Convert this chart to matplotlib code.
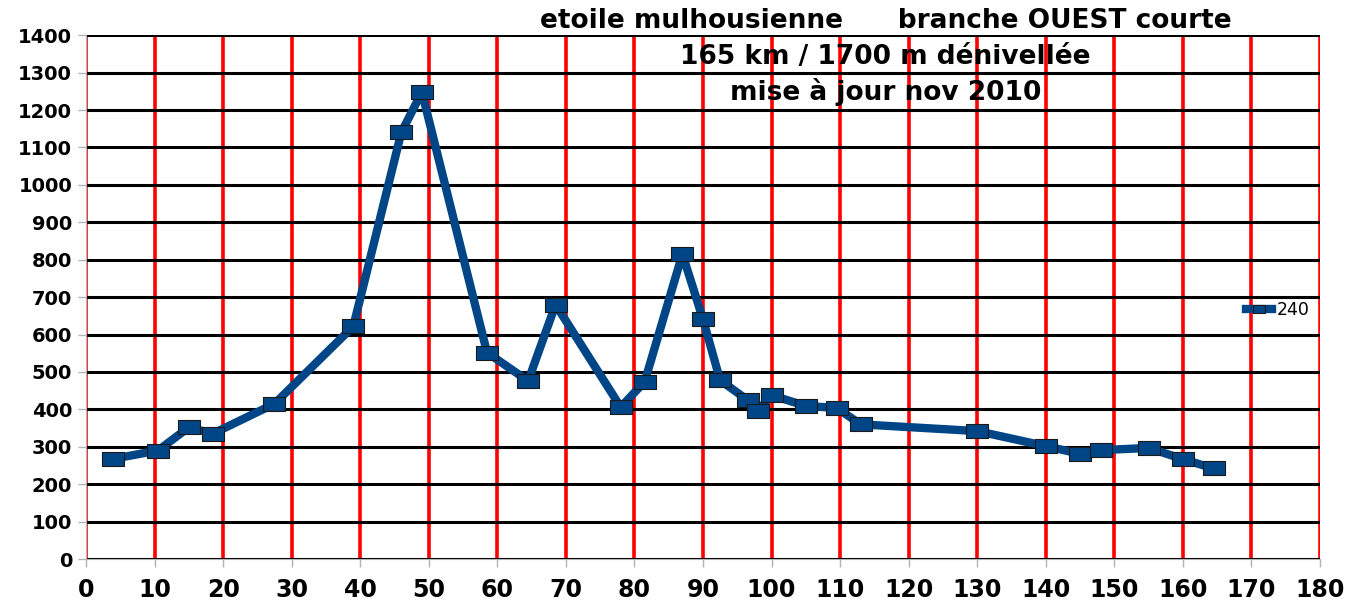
import numpy as np
import matplotlib
matplotlib.use("Agg")
import matplotlib.pyplot as plt

# distance (km) / altitude (m)
km = [4, 10.5, 15, 18.5, 27.5, 39, 46, 49, 58.5, 64.5, 68.5, 78, 81.5, 87, 90,
      92.5, 96.5, 98, 100, 105, 109.5, 113, 130, 140, 145, 148, 155, 160, 164.5]
alt = [268, 290, 352, 335, 415, 622, 1140, 1248, 552, 476, 680, 406, 474, 815, 641,
       478, 425, 396, 438, 409, 404, 360, 342, 302, 281, 291, 297, 267, 242]
series_name = "240"
title_lines = ["etoile mulhousienne      branche OUEST courte",
               "165 km / 1700 m dénivellée",
               "mise à jour nov 2010"]

blue = "#004586"

fig = plt.figure(figsize=(13.58, 6.07), dpi=100)
ax = fig.add_axes([0.0633, 0.079, 0.9087, 0.863])

rect = [(-1.5, -1), (1.5, -1), (1.5, 1), (-1.5, 1), (-1.5, -1)]
ax.plot(km, alt, color=blue, lw=6, marker=rect, markersize=15.5,
        markerfacecolor=blue, markeredgecolor="#1a1a1a", markeredgewidth=0.8,
        label=series_name, zorder=5)

ax.set_xlim(0, 180)
ax.set_ylim(0, 1400)
ax.set_xticks(np.arange(0, 181, 10))
ax.set_yticks(np.arange(0, 1401, 100))

ax.xaxis.grid(True, color="red", lw=2.6)
ax.yaxis.grid(True, color="black", lw=2.2)
ax.set_axisbelow(True)

for s in ["top", "right"]:
    ax.spines[s].set_visible(False)
ax.spines["left"].set_color("#b3b3b3")
ax.spines["bottom"].set_color("#b3b3b3")

ax.tick_params(axis="both", direction="out", length=6, color="#b3b3b3", width=1)
ax.tick_params(axis="y", labelsize=14, pad=4)
ax.tick_params(axis="x", labelsize=17, pad=8)
for lab in ax.get_xticklabels() + ax.get_yticklabels():
    lab.set_fontweight("bold")

ax.legend(loc="center left", bbox_to_anchor=(0.94, 0.475), frameon=False,
          fontsize=12.5, handlelength=1.5, handletextpad=0.3, markerscale=0.6,
          borderpad=0, borderaxespad=0)

ypos = [0.965, 0.906, 0.848]
for txt, y in zip(title_lines, ypos):
    fig.text(0.652, y, txt, ha="center", va="center", fontsize=19,
             fontweight="bold", zorder=10)

fig.savefig("out.png", dpi=100)
